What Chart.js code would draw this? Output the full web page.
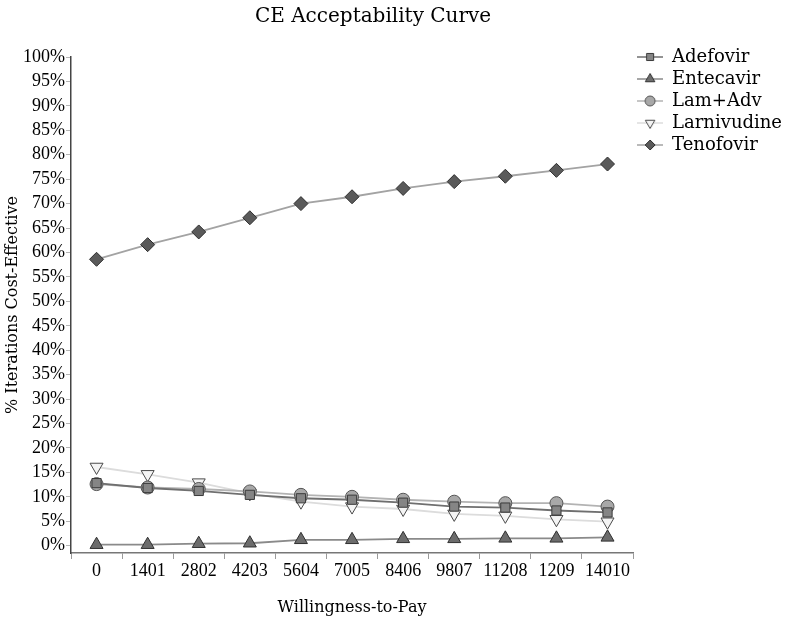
<!DOCTYPE html>
<html>
<head>
<meta charset="utf-8">
<script src="https://cdn.jsdelivr.net/npm/chart.js@4.4.1/dist/chart.umd.min.js"></script>
<style>
  html, body { margin: 0; padding: 0; background: #ffffff; }
  #wrap { width: 794px; height: 619px; }
</style>
</head>
<body>
<div id="wrap"><canvas id="c" width="794" height="619"></canvas></div>
<script>
// ---- data ----
const categories = ['0', '1401', '2802', '4203', '5604', '7005', '8406', '9807', '11208', '1209', '14010'];
const adefovir    = [12.8, 11.8, 11.2, 10.4, 9.7, 9.4, 8.8, 8.0, 7.8, 7.2, 6.8];
const entecavir   = [0.2, 0.2, 0.4, 0.5, 1.2, 1.2, 1.4, 1.4, 1.5, 1.5, 1.7];
const lamAdv      = [12.6, 11.9, 11.6, 11.1, 10.4, 10.0, 9.4, 9.0, 8.7, 8.7, 8.0];
const larnivudine = [16.1, 14.6, 12.9, 10.7, 9.0, 8.0, 7.5, 6.5, 6.1, 5.4, 4.9];
const tenofovir   = [58.6, 61.6, 64.2, 67.1, 70.0, 71.4, 73.1, 74.5, 75.6, 76.8, 78.1];
const yTicks = [0, 5, 10, 15, 20, 25, 30, 35, 40, 45, 50, 55, 60, 65, 70, 75, 80, 85, 90, 95, 100];

const TEXT_FONT = "'DejaVu Serif', 'Liberation Serif', serif";
const NUM_FONT = "'Liberation Serif', 'DejaVu Serif', serif";

function legendSymbol(lineColor, style, fill, stroke, r, rot) {
  const c = document.createElement('canvas');
  c.width = 26; c.height = 16;
  const g = c.getContext('2d');
  g.strokeStyle = lineColor; g.lineWidth = 1.5;
  g.beginPath(); g.moveTo(0, 8); g.lineTo(26, 8); g.stroke();
  g.fillStyle = fill; g.strokeStyle = stroke; g.lineWidth = 1;
  Chart.helpers.drawPoint(g, {pointStyle: style, radius: r, rotation: rot || 0, borderWidth: 1}, 13, 8);
  return c;
}

const seriesDefs = [
  {label: 'Adefovir', data: adefovir, line: '#6f6f6f', fill: '#858585', stroke: '#3a3a3a', style: 'rect', r: 6.5, rot: 0},
  {label: 'Entecavir', data: entecavir, line: '#8a8a8a', fill: '#6c6c6c', stroke: '#303030', style: 'triangle', r: 7.5, rot: 0},
  {label: 'Lam+Adv', data: lamAdv, line: '#b3b3b3', fill: '#a8a8a8', stroke: '#555555', style: 'circle', r: 6.5, rot: 0},
  {label: 'Larnivudine', data: larnivudine, line: '#dcdcdc', fill: '#f4f4f4', stroke: '#4a4a4a', style: 'triangle', r: 7.5, rot: 180},
  {label: 'Tenofovir', data: tenofovir, line: '#a3a3a3', fill: '#5a5a5a', stroke: '#2e2e2e', style: 'rectRot', r: 7, rot: 0}
];

const datasets = seriesDefs.map(s => ({
  label: s.label,
  data: s.data,
  borderColor: s.line,
  borderWidth: 1.8,
  backgroundColor: s.fill,
  pointStyle: s.style,
  pointRotation: s.rot,
  pointRadius: s.r,
  pointBackgroundColor: s.fill,
  pointBorderColor: s.stroke,
  pointBorderWidth: 1,
  tension: 0
}));

// shift the title so that it sits where the reference has it
const titleShift = {
  id: 'titleShift',
  afterLayout(chart) {
    const tb = chart.titleBlock;
    if (tb) { tb.left += 21; tb.right += 21; }
  }
};

const ctx = document.getElementById('c').getContext('2d');
new Chart(ctx, {
  type: 'line',
  data: { labels: categories, datasets: datasets },
  plugins: [titleShift],
  options: {
    responsive: false,
    animation: false,
    events: [],
    layout: { padding: { top: 0, right: 2, bottom: 0, left: 0 } },
    plugins: {
      title: {
        display: true,
        text: 'CE Acceptability Curve',
        color: '#000',
        font: { family: TEXT_FONT, size: 20, weight: 'normal', lineHeight: 1.2 },
        fullSize: false,
        padding: { top: 5, bottom: 28 }
      },
      legend: {
        display: true,
        position: 'right',
        align: 'start',
        fullSize: true,
        title: { display: true, text: ' ', font: { size: 10, lineHeight: 1.2 }, padding: { top: 0, bottom: 32 } },
        labels: {
          color: '#000',
          font: { family: TEXT_FONT, size: 18 },
          usePointStyle: true,
          pointStyleWidth: 26,
          padding: 4,
          generateLabels: function(chart) {
            return seriesDefs.map((s, i) => ({
              text: s.label,
              datasetIndex: i,
              fillStyle: s.fill,
              strokeStyle: s.stroke,
              lineWidth: 1,
              hidden: false,
              pointStyle: legendSymbol(s.line, s.style, s.fill, s.stroke, s.style === 'triangle' ? 5.5 : 5, s.rot),
              fontColor: '#000'
            }));
          }
        }
      },
      tooltip: { enabled: false }
    },
    scales: {
      x: {
        offset: true,
        grid: { display: true, offset: true, drawOnChartArea: false, drawTicks: true, tickLength: 6, color: '#9a9a9a', lineWidth: 1 },
        border: { display: true, color: '#777777', width: 1.5 },
        ticks: { color: '#000', font: { family: NUM_FONT, size: 18 }, padding: 1, maxRotation: 0, autoSkip: false },
        title: { display: true, text: 'Willingness-to-Pay', color: '#000', font: { family: TEXT_FONT, size: 16 }, padding: { top: 4, bottom: 2 } },
        afterFit: function(scale) { scale.height = 66; }
      },
      y: {
        min: -1.5,
        max: 100,
        afterBuildTicks: function(scale) { scale.ticks = yTicks.map(v => ({ value: v })); },
        grid: { display: true, drawOnChartArea: false, drawTicks: true, tickLength: 5, color: '#b5b5b5', lineWidth: 1 },
        border: { display: true, color: '#444444', width: 1.5 },
        ticks: { color: '#000', font: { family: NUM_FONT, size: 18 }, padding: 1, autoSkip: false, callback: v => v + '%' },
        title: { display: true, text: '% Iterations Cost-Effective', color: '#000', font: { family: TEXT_FONT, size: 16 }, padding: { top: 3, bottom: 0 } },
        afterFit: function(scale) { scale.width = 71; }
      }
    }
  }
});
</script>
</body>
</html>
